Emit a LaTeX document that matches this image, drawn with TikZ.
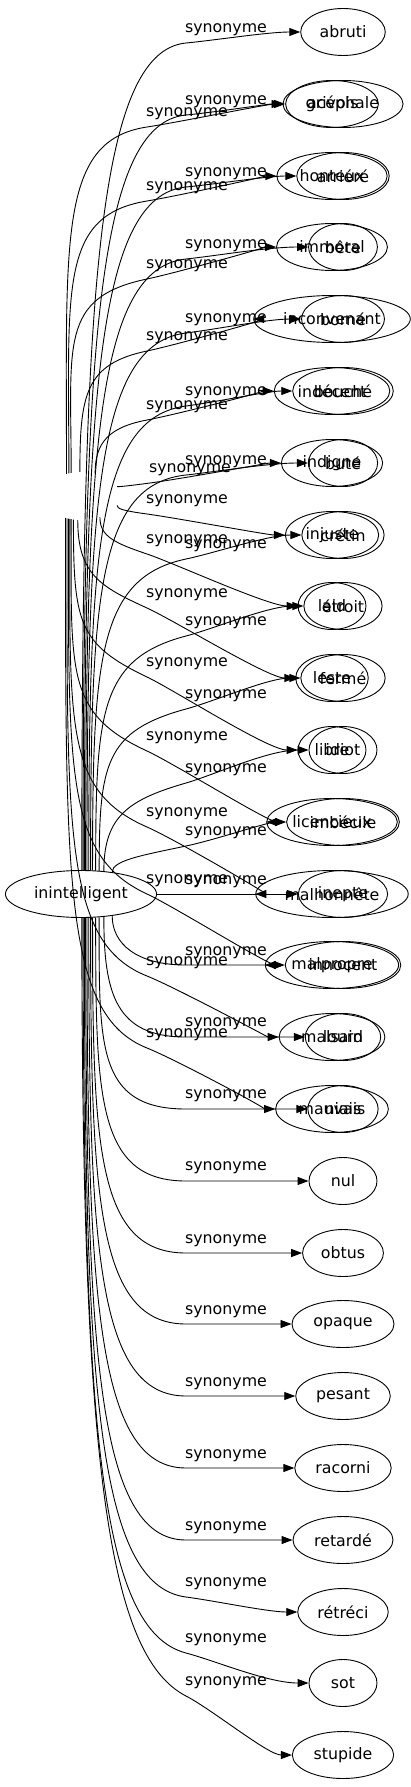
\documentclass[tikz,border=0pt]{standalone}
\usepackage{fontspec}
\setmainfont{DejaVu Sans}
\usetikzlibrary{arrows.meta,shapes.geometric}
\tikzset{
  tnode/.style={draw, ellipse, line width=0.9pt, minimum width=68pt, minimum height=47pt, inner xsep=6.5pt, inner ysep=1pt, font=\fontsize{15.8}{18}\selectfont},
  lab/.style={font=\fontsize{15.8}{18}\selectfont, inner sep=0pt},
  edge/.style={line width=0.9pt, -{Triangle[length=11pt,width=8pt]}},
  hiddennode/.style={ellipse, minimum width=76pt, minimum height=48pt, inner sep=0pt},
}
% #1 start anchor, #2 source y, #3 label x, #4 label y, #5 target, #6 target y
\newcommand\synedge[6]{%
  \pgfmathsetmacro\sePx{#3-40}%
  \pgfmathsetmacro\sePy{#4+13}%
  \pgfmathsetmacro\sePy{(#6<#2) ? max(\sePy,#6) : min(\sePy,#6)}%
  \pgfmathsetmacro\seDx{300-\sePx}%
  \pgfmathsetmacro\seDy{#6-\sePy}%
  \pgfmathsetmacro\seN{veclen(\seDx,\seDy)}%
  \pgfmathsetmacro\seUx{\seDx/\seN}%
  \pgfmathsetmacro\seUy{\seDy/\seN}%
  \pgfmathsetmacro\seD{min(90,0.4*veclen(\sePx-85,\sePy-#2))}%
  \pgfmathsetmacro\seCy{\sePy+0.3*(#2-\sePy)}%
  \draw[edge] (#1) .. controls (#1 |- 0,\seCy) and ({\sePx-\seD*\seUx},{\sePy-\seD*\seUy}) .. (\sePx,\sePy) .. controls ({\sePx+30*\seUx},{\sePy+30*\seUy}) and (268,#6) .. (#5);
  \node[lab] at (#3,#4) {synonyme};
}
\begin{document}
\begin{tikzpicture}[x=1pt,y=-1pt]
\useasboundingbox (0,0) rectangle (411,1787);
% sources
\node[tnode] (I) at (81,894) {inintelligent};
\node[hiddennode] (H) at (82,496) {};
% first graph targets
\node[tnode] (abruti) at (343,32) {abruti};
\node[tnode] (acephale) at (343,104) {acéphale};
\node[tnode] (arriere) at (343,176) {arriéré};
\node[tnode] (bete) at (343,247) {bête};
\node[tnode] (borne) at (343,319) {borné};
\node[tnode] (bouche) at (343,391) {bouché};
\node[tnode] (bute) at (343,463) {buté};
\node[tnode] (cretin) at (343,535) {crétin};
\node[tnode] (etroit) at (343,606) {étroit};
\node[tnode] (ferme) at (343,678) {fermé};
\node[tnode] (idiot) at (343,750) {idiot};
\node[tnode] (imbecile) at (343,822) {imbécile};
\node[tnode] (inepte) at (343,894) {inepte};
\node[tnode] (innocent) at (343,965) {innocent};
\node[tnode] (lourd) at (343,1037) {lourd};
\node[tnode] (niais) at (343,1109) {niais};
\node[tnode] (nul) at (343,1181) {nul};
\node[tnode] (obtus) at (343,1253) {obtus};
\node[tnode] (opaque) at (343,1324) {opaque};
\node[tnode] (pesant) at (343,1396) {pesant};
\node[tnode] (racorni) at (343,1468) {racorni};
\node[tnode] (retarde) at (343,1540) {retardé};
\node[tnode] (retreci) at (343,1612) {rétréci};
\node[tnode] (sot) at (343,1683) {sot};
\node[tnode] (stupide) at (343,1755) {stupide};
% second graph targets
\node[tnode] (grivois) at (332,104) {grivois};
\node[tnode] (honteux) at (332,176) {honteux};
\node[tnode] (immoral) at (332,247) {immoral};
\node[tnode] (inconvenant) at (332,319) {inconvenant};
\node[tnode] (indecent) at (332,391) {indécent};
\node[tnode] (indigne) at (332,463) {indigne};
\node[tnode] (injuste) at (332,535) {injuste};
\node[tnode] (laid) at (332,606) {laid};
\node[tnode] (leste) at (332,678) {leste};
\node[tnode] (libre) at (332,750) {libre};
\node[tnode] (licencieux) at (332,822) {licencieux};
\node[tnode] (malhonnete) at (332,894) {malhonnête};
\node[tnode] (malpropre) at (332,965) {malpropre};
\node[tnode] (malsain) at (332,1037) {malsain};
\node[tnode] (mauvais) at (332,1109) {mauvais};
% first graph edges
\synedge{I.88}{894}{226}{30}{abruti}{32}
\synedge{I.85}{894}{226}{102}{acephale}{104}
\synedge{I.82}{894}{226}{174}{arriere}{176}
\synedge{I.79}{894}{226}{246}{bete}{247}
\synedge{I.76}{894}{226}{320}{borne}{319}
\synedge{I.72}{894}{226}{393}{bouche}{391}
\synedge{I.68}{894}{226}{462}{bute}{463}
\synedge{I.64}{894}{226}{546}{cretin}{535}
\synedge{I.58}{894}{226}{623}{etroit}{606}
\synedge{I.52}{894}{226}{696}{ferme}{678}
\synedge{I.45}{894}{226}{770}{idiot}{750}
\synedge{I.35}{894}{226}{833}{imbecile}{822}
\draw[edge] (I) -- (inepte);
\node[lab] at (226,882) {synonyme};
\synedge{I.-35}{894}{226}{953}{innocent}{965}
\synedge{I.-45}{894}{226}{1024}{lourd}{1037}
\synedge{I.-52}{894}{226}{1096}{niais}{1109}
\synedge{I.-58}{894}{226}{1168}{nul}{1181}
\synedge{I.-64}{894}{226}{1241}{obtus}{1253}
\synedge{I.-68}{894}{226}{1312}{opaque}{1324}
\synedge{I.-72}{894}{226}{1384}{pesant}{1396}
\synedge{I.-76}{894}{226}{1456}{racorni}{1468}
\synedge{I.-79}{894}{226}{1528}{retarde}{1540}
\synedge{I.-82}{894}{226}{1584}{retreci}{1612}
\synedge{I.-85}{894}{226}{1640}{sot}{1683}
\synedge{I.-88}{894}{226}{1683}{stupide}{1755}
% second graph edges
\synedge{H.125}{496}{187}{114}{grivois}{104}
\synedge{H.120}{496}{187}{188}{honteux}{176}
\synedge{H.115}{496}{187}{266}{immoral}{247}
\synedge{H.95}{496}{187}{338}{inconvenant}{319}
\synedge{H.60}{496}{187}{407}{indecent}{391}
\synedge{H.15}{496}{190}{470}{indigne}{463}
\synedge{H.-15}{496}{187}{501}{injuste}{535}
\synedge{H.-50}{496}{187}{541}{laid}{606}
\synedge{H.-100}{496}{187}{595}{leste}{678}
\synedge{H.-110}{496}{187}{664}{libre}{750}
\synedge{H.-115}{496}{187}{738}{licencieux}{822}
\synedge{H.-118}{496}{187}{814}{malhonnete}{894}
\synedge{H.-121}{496}{187}{881}{malpropre}{965}
\synedge{H.-124}{496}{187}{963}{malsain}{1037}
\synedge{H.-127}{496}{187}{1035}{mauvais}{1109}
\end{tikzpicture}
\end{document}
